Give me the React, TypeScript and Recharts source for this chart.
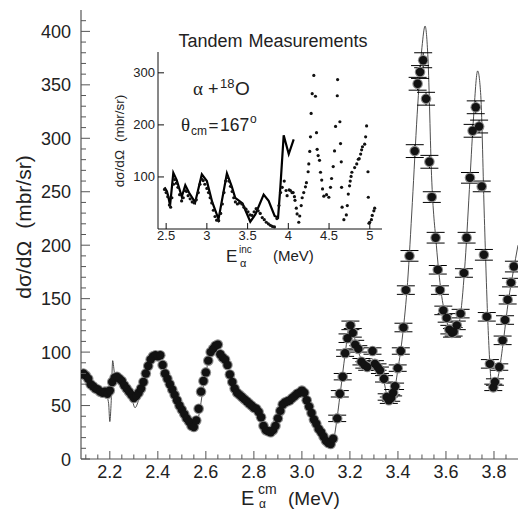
import React from 'react';
import { ComposedChart, Line, Scatter, XAxis, YAxis, ErrorBar } from 'recharts';

// Main measurement: [E_cm (MeV), dσ/dΩ (mbr/sr), error]
const mainLow: [number, number, number][] = [
  [2.08, 79, 2], [2.09, 80, 2], [2.10, 78, 2], [2.11, 75, 2], [2.12, 70, 2], [2.13, 68, 2],
  [2.14, 66, 2], [2.15, 65, 2], [2.16, 63, 2], [2.17, 62, 2], [2.18, 63, 2], [2.19, 61, 2],
  [2.20, 64, 2], [2.21, 72, 2], [2.22, 76, 2], [2.23, 77, 2], [2.24, 75, 2], [2.25, 73, 2],
  [2.26, 69, 2], [2.27, 66, 2], [2.28, 63, 2], [2.29, 60, 2], [2.30, 57, 2], [2.31, 59, 2],
  [2.32, 62, 2], [2.33, 66, 2], [2.34, 72, 2], [2.35, 80, 2], [2.36, 87, 2], [2.37, 93, 2],
  [2.38, 96, 2], [2.39, 97, 2], [2.40, 96, 2], [2.41, 97, 2], [2.42, 88, 2], [2.43, 80, 2],
  [2.44, 75, 2], [2.45, 70, 2], [2.46, 65, 2], [2.47, 60, 2], [2.48, 55, 2], [2.49, 50, 2],
  [2.50, 46, 2], [2.51, 42, 2], [2.52, 38, 2], [2.53, 35, 2], [2.54, 31, 2], [2.55, 30, 2],
  [2.56, 36, 2], [2.57, 47, 2], [2.58, 63, 2], [2.59, 73, 2], [2.60, 81, 2], [2.61, 92, 2],
  [2.62, 100, 2], [2.63, 103, 2], [2.64, 106, 2], [2.65, 107, 2], [2.66, 98, 2], [2.67, 95, 2],
  [2.68, 93, 2], [2.69, 88, 2], [2.70, 79, 2], [2.71, 72, 2], [2.72, 66, 2], [2.73, 62, 2],
  [2.74, 60, 2], [2.75, 58, 2], [2.76, 56, 2], [2.77, 54, 2], [2.78, 52, 2], [2.79, 50, 2],
  [2.80, 48, 2], [2.81, 47, 2], [2.82, 44, 2], [2.83, 39, 2], [2.84, 31, 2], [2.85, 27, 2],
  [2.86, 26, 2], [2.87, 25, 2], [2.88, 27, 2], [2.89, 31, 2], [2.90, 38, 2], [2.91, 45, 2],
  [2.92, 51, 2], [2.93, 53, 2], [2.94, 54, 2], [2.95, 55, 2], [2.96, 57, 2], [2.97, 59, 2],
  [2.98, 61, 2], [2.99, 62, 2], [3.00, 64, 2], [3.01, 62, 2], [3.02, 55, 2], [3.03, 49, 2],
  [3.04, 43, 2], [3.05, 37, 2], [3.06, 33, 2], [3.07, 28, 2], [3.08, 25, 2], [3.09, 21, 2],
  [3.10, 17, 2], [3.11, 15, 2], [3.12, 14, 2], [3.13, 19, 2],
];

const mainHigh: [number, number, number][] = [
  [3.147, 38, 3], [3.158, 61, 3], [3.170, 77, 3], [3.180, 99, 3], [3.190, 113, 4], [3.202, 125, 4],
  [3.212, 118, 4], [3.222, 107, 4], [3.235, 103, 3], [3.248, 91, 3], [3.260, 88, 3], [3.272, 86, 3],
  [3.294, 101, 3], [3.304, 89, 3], [3.315, 86, 3], [3.325, 83, 3], [3.342, 75, 3], [3.353, 58, 3],
  [3.362, 55, 3], [3.372, 57, 3], [3.380, 62, 3], [3.388, 68, 3], [3.399, 85, 3], [3.412, 101, 3],
  [3.423, 123, 4], [3.433, 158, 4], [3.448, 190, 5], [3.470, 288, 6], [3.482, 351, 6], [3.492, 362, 6],
  [3.505, 373, 7], [3.517, 337, 6], [3.531, 278, 6], [3.541, 245, 5], [3.557, 207, 5], [3.566, 177, 4],
  [3.575, 158, 4], [3.589, 139, 4], [3.603, 132, 4], [3.614, 121, 4], [3.625, 118, 4], [3.632, 119, 4],
  [3.645, 125, 4], [3.661, 136, 4], [3.675, 174, 4], [3.686, 207, 5], [3.700, 263, 5], [3.711, 307, 6],
  [3.724, 329, 6], [3.738, 311, 6], [3.749, 255, 5], [3.758, 191, 5], [3.770, 133, 4], [3.783, 89, 4],
  [3.797, 67, 3], [3.804, 72, 3], [3.822, 86, 3], [3.836, 111, 4], [3.846, 130, 4], [3.857, 149, 4],
  [3.871, 165, 4], [3.883, 180, 5],
];

// Fit curve of the main plot: [E, σ]
const mainFit: [number, number][] = [
  [2.080, 78], [2.100, 76], [2.130, 68], [2.160, 63], [2.185, 60], [2.195, 52], [2.200, 35],
  [2.205, 50], [2.212, 92], [2.220, 80], [2.240, 76], [2.270, 66], [2.290, 58], [2.305, 48],
  [2.320, 55], [2.340, 71], [2.360, 86], [2.380, 95], [2.400, 97], [2.420, 92], [2.440, 80],
  [2.470, 63], [2.500, 47], [2.530, 36], [2.550, 31], [2.570, 40], [2.590, 68], [2.610, 91],
  [2.630, 103], [2.650, 106], [2.670, 98], [2.690, 85], [2.710, 72], [2.740, 62], [2.780, 53],
  [2.820, 45], [2.850, 30], [2.870, 24], [2.890, 28], [2.910, 45], [2.930, 53], [2.970, 58],
  [3.000, 63], [3.020, 58], [3.050, 40], [3.080, 25], [3.110, 13], [3.125, 10], [3.140, 28],
  [3.160, 62], [3.180, 98], [3.200, 126], [3.210, 121], [3.230, 104], [3.260, 90], [3.290, 94],
  [3.310, 88], [3.340, 74], [3.360, 56], [3.380, 60], [3.400, 84], [3.420, 117], [3.440, 165],
  [3.460, 240], [3.480, 322], [3.500, 385], [3.513, 405], [3.525, 375], [3.540, 265], [3.560, 200],
  [3.580, 156], [3.600, 132], [3.620, 119], [3.640, 118], [3.660, 134], [3.680, 185], [3.700, 262],
  [3.715, 320], [3.732, 363], [3.745, 340], [3.760, 225], [3.775, 125], [3.790, 70], [3.800, 65],
  [3.820, 80], [3.840, 112], [3.860, 148], [3.880, 175], [3.900, 200],
];

// Inset (tandem) measurement dots: [E_inc, σ]
const insetDots: [number, number][] = [
  [2.480, 76], [2.500, 70], [2.520, 62], [2.540, 46], [2.555, 42], [2.570, 60], [2.590, 86],
  [2.605, 95], [2.625, 88], [2.645, 80], [2.665, 66], [2.690, 54], [2.710, 60], [2.730, 74],
  [2.750, 72], [2.770, 64], [2.795, 58], [2.820, 52], [2.845, 50], [2.870, 56], [2.895, 70],
  [2.915, 86], [2.935, 96], [2.955, 93], [2.975, 86], [3.000, 78], [3.020, 70], [3.040, 60],
  [3.060, 50], [3.080, 36], [3.100, 24], [3.120, 17], [3.145, 16], [3.170, 30], [3.190, 48],
  [3.210, 70], [3.230, 92], [3.250, 99], [3.270, 92], [3.290, 82], [3.310, 72], [3.330, 60],
  [3.350, 52], [3.375, 48], [3.400, 50], [3.430, 48], [3.455, 42], [3.480, 38], [3.505, 33],
  [3.530, 27], [3.555, 26], [3.580, 33], [3.605, 39], [3.630, 35], [3.655, 30], [3.680, 22],
  [3.705, 18], [3.730, 13], [3.755, 10], [3.780, 7], [3.805, 5], [3.830, 4], [3.860, 20],
  [3.885, 45], [3.905, 70], [3.925, 80], [3.950, 92], [3.972, 74], [3.985, 64], [4.010, 75],
  [4.026, 74], [4.045, 70], [4.059, 70], [4.075, 62], [4.082, 55], [4.098, 40], [4.108, 29],
  [4.128, 13], [4.140, 25], [4.158, 45], [4.170, 60], [4.189, 70], [4.210, 81], [4.222, 89],
  [4.243, 110], [4.251, 125], [4.263, 149], [4.272, 177], [4.280, 222], [4.293, 260], [4.313, 295],
  [4.333, 255], [4.346, 185], [4.354, 153], [4.366, 141], [4.383, 132], [4.395, 109], [4.410, 94],
  [4.420, 77], [4.436, 63], [4.469, 66], [4.497, 61], [4.518, 80], [4.531, 97], [4.551, 120],
  [4.567, 150], [4.580, 197], [4.601, 256], [4.605, 287], [4.633, 206], [4.641, 164], [4.650, 129],
  [4.654, 80], [4.660, 42], [4.682, 18], [4.712, 27], [4.724, 45], [4.736, 67], [4.752, 83],
  [4.760, 92], [4.770, 101], [4.780, 109], [4.814, 118], [4.840, 125], [4.859, 134], [4.870, 135],
  [4.888, 144], [4.900, 152], [4.910, 158], [4.937, 163], [4.949, 177], [4.961, 198], [4.978, 110],
  [4.982, 61], [4.990, 11], [4.999, 13], [5.020, 18], [5.030, 26], [5.050, 35], [5.060, 40],
];

// Inset fit curve (thick line)
const insetFit: [number, number][] = [
  [2.480, 80], [2.510, 72], [2.527, 62], [2.548, 45], [2.588, 108], [2.630, 94], [2.692, 62],
  [2.735, 84], [2.780, 70], [2.856, 51], [2.938, 105], [3.000, 92], [3.065, 52], [3.143, 19],
  [3.246, 107], [3.305, 82], [3.348, 60], [3.438, 49], [3.533, 14], [3.595, 28], [3.697, 66],
  [3.758, 54], [3.832, 25], [3.874, 22], [3.902, 80], [3.943, 180], [4.005, 144], [4.066, 172],
];

const mainXLabels = [2.2, 2.4, 2.6, 2.8, 3.0, 3.2, 3.4, 3.6, 3.8];
const mainYLabels = [0, 50, 100, 150, 200, 250, 300, 350, 400];
const insetXLabels = [2.5, 3, 3.5, 4, 4.5, 5];
const insetYLabels = [100, 200, 300];

const mainXTicks: number[] = [];
for (let k = 210; k <= 385; k += 5) mainXTicks.push(k / 100);
const mainYTicks: number[] = [];
for (let k = 0; k <= 410; k += 10) mainYTicks.push(k);

const lowData = mainLow.map(([x, y, err]) => ({ x, y, err }));
const highData = mainHigh.map(([x, y, err]) => ({ x, y, err }));
const fitData = mainFit.map(([x, y]) => ({ x, y }));
const insetDotData = insetDots.map(([x, y]) => ({ x, y }));
const insetFitData = insetFit.map(([x, y]) => ({ x, y }));

const FONT = '"Liberation Sans", Arial, Helvetica, sans-serif';
const SERIF = '"Liberation Serif", "Times New Roman", serif';
const AXIS = '#555';
const TEXT = '#222';

const near = (list: number[], v: number) => list.some((l) => Math.abs(l - v) < 1e-6);

const MainXTick = (p: any) => {
  const { x, y, payload } = p;
  const v = payload.value as number;
  const major = near(mainXLabels, v);
  return (
    <g>
      <line x1={x} x2={x} y1={y} y2={y - (major ? 8 : 4.5)} stroke={AXIS} strokeWidth={1} />
      {major && (
        <text x={x} y={y + 19} textAnchor="middle" fontSize={18} fontFamily={FONT} fill={TEXT}>
          {v.toFixed(1)}
        </text>
      )}
    </g>
  );
};

const MainYTick = (p: any) => {
  const { x, y, payload } = p;
  const v = payload.value as number;
  const major = near(mainYLabels, v);
  return (
    <g>
      <line x1={x} x2={x + (major ? 9 : 5)} y1={y} y2={y} stroke={AXIS} strokeWidth={1} />
      {major && (
        <text x={x - 10} y={y + 6.5} textAnchor="end" fontSize={18} fontFamily={FONT} fill={TEXT}>
          {v}
        </text>
      )}
    </g>
  );
};

const InsetXTick = (p: any) => {
  const { x, y, payload } = p;
  const v = payload.value as number;
  return (
    <g>
      <line x1={x} x2={x} y1={y} y2={y - 6} stroke="#111" strokeWidth={1} />
      <text x={x} y={y + 10.5} textAnchor="middle" fontSize={13} fontFamily={FONT} fill={TEXT}>
        {String(v)}
      </text>
    </g>
  );
};

const InsetTopTick = (p: any) => {
  const { x, y } = p;
  return <line x1={x} x2={x} y1={y} y2={y + 6} stroke="#111" strokeWidth={1} />;
};

const InsetYTick = (p: any) => {
  const { x, y, payload } = p;
  return (
    <g>
      <line x1={x} x2={x + 6} y1={y} y2={y} stroke="#111" strokeWidth={1} />
      <text x={x - 3} y={y + 4.5} textAnchor="end" fontSize={13} fontFamily={FONT} fill={TEXT}>
        {payload.value}
      </text>
    </g>
  );
};

const InsetRightTick = (p: any) => {
  const { x, y } = p;
  return <line x1={x} x2={x - 6} y1={y} y2={y} stroke="#111" strokeWidth={1} />;
};

const RimDot = (p: any) => {
  if (p.cx == null || p.cy == null) return null;
  return <circle cx={p.cx} cy={p.cy} r={5.3} fill="#8c8c8c" />;
};

const CoreDot = (p: any) => {
  if (p.cx == null || p.cy == null) return null;
  return <circle cx={p.cx} cy={p.cy} r={4.2} fill="#121212" />;
};

const SmallDot = (p: any) => {
  if (p.cx == null || p.cy == null) return null;
  return <circle cx={p.cx} cy={p.cy} r={1.6} fill="#111" />;
};

export default function App() {
  return (
    <div style={{ position: 'absolute', left: 0, top: 0, width: 518, height: 510, background: '#fff', overflow: 'hidden' }}>
      <div style={{ position: 'absolute', left: 0, top: 0 }}>
        <ComposedChart width={518} height={510} margin={{ top: 10, right: 0, bottom: 0, left: 0 }}>
          <XAxis
            dataKey="x"
            type="number"
            domain={[2.08, 3.9]}
            allowDataOverflow
            ticks={mainXTicks}
            interval={0}
            height={51}
            tickSize={0}
            tickMargin={0}
            tickLine={false}
            tick={<MainXTick />}
            axisLine={{ stroke: AXIS, strokeWidth: 1.2 }}
          />
          <XAxis
            xAxisId="top"
            orientation="top"
            dataKey="x"
            type="number"
            domain={[2.08, 3.9]}
            allowDataOverflow
            height={0}
            tick={false}
            tickLine={false}
            axisLine={{ stroke: AXIS, strokeWidth: 1.2 }}
          />
          <YAxis
            type="number"
            domain={[0, 420]}
            allowDataOverflow
            ticks={mainYTicks}
            interval={0}
            width={81}
            tickSize={0}
            tickMargin={0}
            tickLine={false}
            tick={<MainYTick />}
            axisLine={{ stroke: AXIS, strokeWidth: 1.2 }}
          />
          <Line
            data={fitData}
            dataKey="y"
            type="monotone"
            stroke="#3a3a3a"
            strokeWidth={0.9}
            dot={false}
            activeDot={false}
            isAnimationActive={false}
          />
          <Scatter data={lowData} dataKey="y" shape={<RimDot />} isAnimationActive={false} />
          <Scatter data={highData} dataKey="y" shape={<RimDot />} isAnimationActive={false} />
          <Scatter data={lowData} dataKey="y" shape={<CoreDot />} isAnimationActive={false} />
          <Scatter data={highData} dataKey="y" shape={<CoreDot />} isAnimationActive={false}>
            <ErrorBar dataKey="err" direction="y" width={9} stroke="#000" strokeWidth={1} />
          </Scatter>
        </ComposedChart>
      </div>

      <div style={{ position: 'absolute', left: 100, top: 20 }}>
        <ComposedChart width={300} height={250} margin={{ top: 32, right: 18, bottom: 0, left: 0 }}>
          <XAxis
            dataKey="x"
            type="number"
            domain={[2.4, 5.15]}
            allowDataOverflow
            ticks={insetXLabels}
            interval={0}
            height={41}
            tickSize={0}
            tickMargin={0}
            tickLine={false}
            tick={<InsetXTick />}
            axisLine={{ stroke: '#111', strokeWidth: 1 }}
          />
          <XAxis
            xAxisId="top"
            orientation="top"
            dataKey="x"
            type="number"
            domain={[2.4, 5.15]}
            allowDataOverflow
            ticks={insetXLabels}
            interval={0}
            height={0}
            tickSize={0}
            tickMargin={0}
            tickLine={false}
            tick={<InsetTopTick />}
            axisLine={{ stroke: '#111', strokeWidth: 1 }}
          />
          <YAxis
            type="number"
            domain={[0, 340]}
            allowDataOverflow
            ticks={insetYLabels}
            interval={0}
            width={58}
            tickSize={0}
            tickMargin={0}
            tickLine={false}
            tick={<InsetYTick />}
            axisLine={{ stroke: '#111', strokeWidth: 1 }}
          />
          <YAxis
            yAxisId="right"
            orientation="right"
            type="number"
            domain={[0, 340]}
            allowDataOverflow
            ticks={insetYLabels}
            interval={0}
            width={0}
            tickSize={0}
            tickMargin={0}
            tickLine={false}
            tick={<InsetRightTick />}
            axisLine={{ stroke: '#111', strokeWidth: 1 }}
          />
          <Line
            data={insetFitData}
            dataKey="y"
            type="linear"
            stroke="#000"
            strokeWidth={2.2}
            dot={false}
            activeDot={false}
            isAnimationActive={false}
          />
          <Scatter data={insetDotData} dataKey="y" shape={<SmallDot />} isAnimationActive={false} />
        </ComposedChart>
      </div>

      <svg
        width={518}
        height={510}
        style={{ position: 'absolute', left: 0, top: 0, pointerEvents: 'none' }}
        fontFamily={FONT}
        fill={TEXT}
      >
        {/* main y label */}
        <text transform="translate(31,227) rotate(-90)" textAnchor="middle" fontSize={21}>
          <tspan>dσ/dΩ</tspan>
          <tspan dx={12}>(mbr/sr)</tspan>
        </text>
        {/* main x label */}
        <text x={241} y={505} fontSize={20}>E</text>
        <text x={258} y={494} fontSize={14}>cm</text>
        <text x={259} y={508} fontSize={12}>α</text>
        <text x={288} y={505} fontSize={19}>(MeV)</text>

        {/* inset title */}
        <text x={273} y={47} textAnchor="middle" fontSize={18}>
          <tspan>Tandem</tspan>
          <tspan dx={6}>Measurements</tspan>
        </text>
        {/* inset y label */}
        <text transform="translate(124,141) rotate(-90)" textAnchor="middle" fontSize={13.5}>
          <tspan>dσ/dΩ</tspan>
          <tspan dx={8}>(mbr/sr)</tspan>
        </text>
        {/* inset x label */}
        <text x={226} y={262} fontSize={17}>E</text>
        <text x={239} y={252.5} fontSize={10}>inc</text>
        <text x={240} y={267} fontSize={11}>α</text>
        <text x={273} y={261} fontSize={15}>(MeV)</text>

        {/* alpha + 18O */}
        <text x={193} y={95} fontSize={19} fontFamily={SERIF}>α</text>
        <text x={208} y={95} fontSize={18}>+</text>
        <text x={220} y={88} fontSize={13}>18</text>
        <text x={235} y={95} fontSize={19}>O</text>

        {/* theta_cm = 167° */}
        <text x={181} y={131} fontSize={19} fontFamily={SERIF}>θ</text>
        <text x={191} y={135} fontSize={12}>cm</text>
        <text x={208.5} y={131} fontSize={17}>=</text>
        <text x={220} y={131} fontSize={17.5}>167</text>
        <text x={250} y={123} fontSize={12}>o</text>
      </svg>
    </div>
  );
}
